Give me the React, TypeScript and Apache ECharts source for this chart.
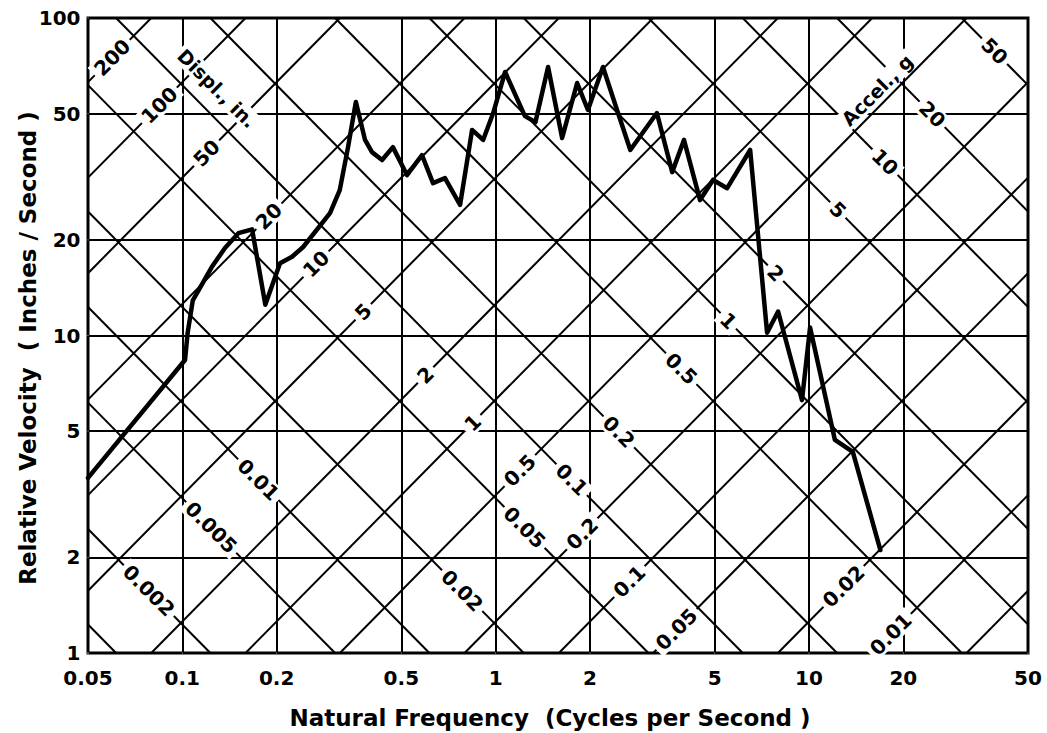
import { useEffect, useRef } from "react";
import * as echarts from "echarts";

// ---- axis ticks ----
const freqTicks = [0.05, 0.1, 0.2, 0.5, 1, 2, 5, 10, 20, 50];
const velTicks = [1, 2, 5, 10, 20, 50, 100];

// ---- tripartite diagonal grid (displacement in inches, acceleration in g) ----
const dispLines = [200, 100, 50, 20, 10, 5, 2, 1, 0.5, 0.2, 0.1, 0.05, 0.02, 0.01, 0.005];
const accelLines = [0.001, 0.002, 0.005, 0.01, 0.02, 0.05, 0.1, 0.2, 0.5, 1, 2, 5, 10, 20, 50];

// labels on displacement lines, grouped by the acceleration line they sit on
const dispLabelsMain = [200, 100, 50, 20, 10, 5, 2, 1, 0.5, 0.2, 0.1, 0.05];
const dispLabelsLow = [0.02, 0.01];
const dispLabelPath = [0.073, 0.34];
// labels on acceleration lines, grouped by the displacement line they sit on
const accelLabelsLow = [0.002, 0.005, 0.01];
const accelLabelsMain = [0.02, 0.05, 0.1, 0.2, 0.5, 1, 2, 5, 10, 20, 50];
const accelLabelPath = [3.2, 0.32];

// ---- shock spectrum curve ----
const freq = [
  0.05, 0.102, 0.104, 0.108, 0.116, 0.124, 0.137, 0.151, 0.167, 0.184, 0.205, 0.224,
  0.243, 0.296, 0.318, 0.338, 0.358, 0.383, 0.403, 0.434, 0.47, 0.521, 0.582, 0.631,
  0.689, 0.77, 0.841, 0.912, 0.982, 1.072, 1.24, 1.34, 1.47, 1.63, 1.82, 1.97, 2.2,
  2.44, 2.69, 3.27, 3.66, 3.99, 4.49, 4.94, 5.48, 6.49, 7.35, 7.97, 9.5, 10.08, 12.1,
  13.8, 16.9,
];
const vel = [
  3.56, 8.37, 10.2, 12.9, 14.6, 16.4, 18.9, 21.0, 21.6, 12.5, 16.9, 17.7, 19.0, 24.3,
  28.7, 39.2, 54.4, 41.3, 37.8, 35.7, 39.2, 32.0, 37.0, 30.2, 31.3, 25.8, 44.4, 41.3,
  50.2, 67.6, 49.1, 47.0, 70.1, 41.9, 62.4, 51.3, 70.1, 51.3, 38.4, 50.2, 32.7, 41.3,
  26.7, 30.9, 29.1, 38.4, 10.2, 11.9, 6.26, 10.6, 4.69, 4.3, 2.11,
];

const headings = [
  { text: "Displ., in.", at: [0.129, 60], rotate: -45 },
  { text: "Accel., g", at: [16.5, 59.3], rotate: 45 },
];

const F_MIN = 0.05;
const F_MAX = 50;
const V_MIN = 1;
const V_MAX = 100;
const K = 386.09 / (2 * Math.PI); // V = K * A / f  (A in g, V in in/s)
const TWO_PI = 2 * Math.PI;

function dispSegment(d: number) {
  const c = TWO_PI * d;
  const f0 = Math.max(F_MIN, V_MIN / c);
  const f1 = Math.min(F_MAX, V_MAX / c);
  if (f0 >= f1) return null;
  return [
    [f0, c * f0],
    [f1, c * f1],
  ];
}
function accelSegment(a: number) {
  const c = K * a;
  const f0 = Math.max(F_MIN, c / V_MAX);
  const f1 = Math.min(F_MAX, c / V_MIN);
  if (f0 >= f1) return null;
  return [
    [f0, c / f0],
    [f1, c / f1],
  ];
}
function crossing(d: number, a: number) {
  const f = Math.sqrt((K * a) / (TWO_PI * d));
  return [f, TWO_PI * f * d];
}

const FONT = "DejaVu Sans";

export default function App() {
  const ref = useRef<HTMLDivElement>(null);

  useEffect(() => {
    if (!ref.current) return;
    const chart = echarts.init(ref.current, null, { renderer: "svg" });

    const gridSegs: any[] = [];
    freqTicks.slice(1, -1).forEach((f) => gridSegs.push({ coords: [[f, V_MIN], [f, V_MAX]] }));
    velTicks.slice(1, -1).forEach((v) => gridSegs.push({ coords: [[F_MIN, v], [F_MAX, v]] }));

    const diagSegs: any[] = [];
    dispLines.forEach((d) => {
      const s = dispSegment(d);
      if (s) diagSegs.push({ coords: s });
    });
    accelLines.forEach((a) => {
      const s = accelSegment(a);
      if (s) diagSegs.push({ coords: s });
    });

    const dispLabelData = [
      ...dispLabelsMain.map((d) => ({ name: String(d), value: crossing(d, dispLabelPath[0]) })),
      ...dispLabelsLow.map((d) => ({ name: String(d), value: crossing(d, dispLabelPath[1]) })),
    ];
    const accelLabelData = [
      ...accelLabelsLow.map((a) => ({ name: String(a), value: crossing(accelLabelPath[0], a) })),
      ...accelLabelsMain.map((a) => ({ name: String(a), value: crossing(accelLabelPath[1], a) })),
    ];

    const labelSeries = (data: any[], rotate: number, extra: any = {}) => ({
      type: "scatter",
      data,
      symbolSize: 1,
      itemStyle: { color: "#fff", opacity: 1 },
      clip: false,
      silent: true,
      z: 5,
      label: {
        show: true,
        position: "inside",
        formatter: "{b}",
        rotate,
        color: "#000",
        opacity: 1,
        textBorderWidth: 0,
        fontFamily: FONT,
        fontSize: 20,
        fontWeight: "bold",
        backgroundColor: "#fff",
        padding: [0, 4],
        ...extra,
      },
    });

    const tickLabel = {
      show: true,
      formatter: "{b}",
      color: "#000",
      opacity: 1,
      textBorderWidth: 0,
      fontFamily: FONT,
      fontSize: 20,
      fontWeight: "bold",
    };

    const option: any = {
      animation: false,
      backgroundColor: "#fff",
      grid: {
        left: 88,
        right: 19,
        top: 18,
        bottom: 80,
        show: true,
        borderColor: "#000",
        borderWidth: 3,
        backgroundColor: "#fff",
        containLabel: false,
        outerBoundsMode: "none",
      },
      xAxis: {
        type: "log",
        logBase: 10,
        min: F_MIN,
        max: F_MAX,
        axisLine: { show: false },
        axisTick: { show: false },
        axisLabel: { show: false },
        splitLine: { show: false },
      },
      yAxis: {
        type: "log",
        logBase: 10,
        min: V_MIN,
        max: V_MAX,
        axisLine: { show: false },
        axisTick: { show: false },
        axisLabel: { show: false },
        splitLine: { show: false },
      },
      graphic: [
        {
          type: "text",
          x: 550,
          y: 718,
          silent: true,
          style: {
            text: "Natural Frequency  (Cycles per Second )",
            font: `bold 23px "${FONT}"`,
            fill: "#000",
            align: "center",
            verticalAlign: "middle",
          },
        },
        {
          type: "text",
          x: 28,
          y: 348,
          rotation: Math.PI / 2,
          silent: true,
          style: {
            text: "Relative Velocity  ( Inches / Second )",
            font: `bold 23px "${FONT}"`,
            fill: "#000",
            align: "center",
            verticalAlign: "middle",
          },
        },
      ],
      series: [
        {
          type: "lines",
          coordinateSystem: "cartesian2d",
          silent: true,
          z: 1,
          lineStyle: { color: "#000", width: 2, opacity: 1, curveness: 0 },
          data: gridSegs,
        },
        {
          type: "lines",
          coordinateSystem: "cartesian2d",
          silent: true,
          z: 2,
          lineStyle: { color: "#000", width: 2, opacity: 1, curveness: 0 },
          data: diagSegs,
        },
        labelSeries(dispLabelData, 45),
        labelSeries(accelLabelData, -45),
        ...headings.map((h) =>
          labelSeries([{ name: h.text, value: h.at }], h.rotate, { fontSize: 19, padding: [1, 3] })
        ),
        {
          type: "scatter",
          data: freqTicks.map((f) => ({ name: String(f), value: [f, V_MIN] })),
          symbolSize: 1,
          itemStyle: { color: "#fff" },
          clip: false,
          silent: true,
          label: { ...tickLabel, position: "bottom", distance: 14 },
        },
        {
          type: "scatter",
          data: velTicks.map((v) => ({ name: String(v), value: [F_MIN, v] })),
          symbolSize: 1,
          itemStyle: { color: "#fff" },
          clip: false,
          silent: true,
          label: { ...tickLabel, position: "left", distance: 7 },
        },
        {
          type: "line",
          data: freq.map((f, i) => [f, vel[i]]),
          showSymbol: false,
          symbol: "none",
          silent: true,
          z: 10,
          lineStyle: { color: "#000", width: 4.5, join: "round", cap: "round" },
        },
      ],
    };

    chart.setOption(option);
    return () => chart.dispose();
  }, []);

  return (
    <div
      ref={ref}
      style={{ position: "fixed", left: 0, top: 0, width: 1047, height: 733, background: "#fff" }}
    />
  );
}
